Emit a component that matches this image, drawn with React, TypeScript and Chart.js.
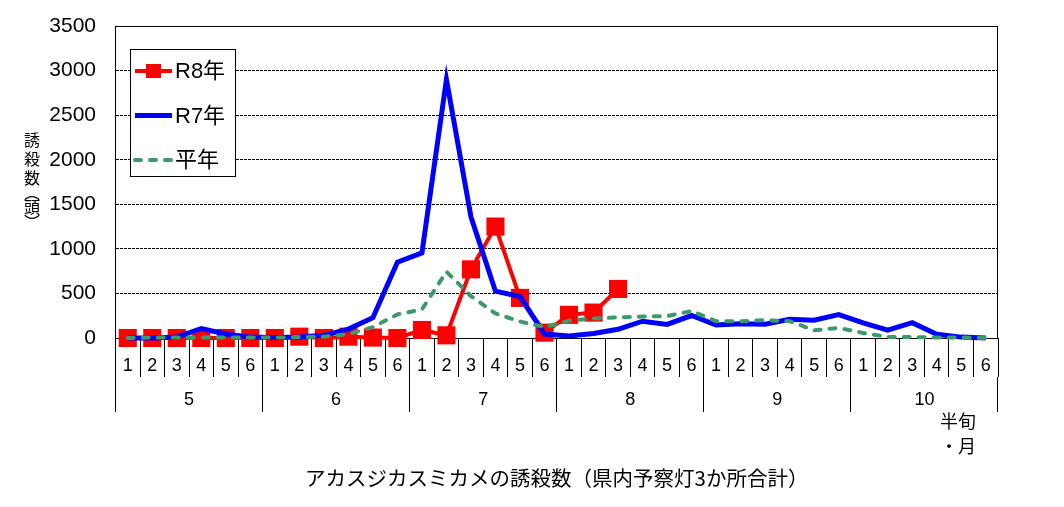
import { useEffect, useRef } from "react";
import { Chart, registerables } from "chart.js";
Chart.register(...registerables);

// 月と半旬
const months = ["5", "6", "7", "8", "9", "10"];
const halves = ["1", "2", "3", "4", "5", "6"];
const categories = months.flatMap((m) => halves.map((h) => `${m}月${h}半旬`));

// 誘殺数（頭）
const r8 = [
  0, 0, 0, 0, 0, 0,
  0, 15, 0, 15, 5, 0,
  90, 30, 770, 1250, 450, 60,
  260, 285, 550, null, null, null,
  null, null, null, null, null, null,
  null, null, null, null, null, null,
];
const r7 = [
  0, 0, 10, 105, 45, 10,
  5, 10, 30, 100, 228, 850,
  955, 2900, 1360, 525, 465, 45,
  22, 50, 98, 188, 152, 252,
  145, 160, 155, 210, 200, 262,
  170, 88, 172, 42, 10, 0,
];
const normal = [
  0, 5, 5, 5, 5, 5,
  5, 10, 15, 45, 122, 265,
  320, 745, 470, 275, 185, 122,
  195, 220, 230, 240, 246, 303,
  188, 188, 200, 188, 87, 113,
  57, 12, 10, 5, 5, 0,
];

const FONT_NUM = "'Liberation Sans', 'Noto Sans CJK JP', sans-serif";
const FONT_JP = "'Noto Sans CJK JP', sans-serif";

const decor = {
  id: "decor",
  afterDatasetsDraw(chart: Chart) {
    const { ctx, chartArea: a } = chart;
    ctx.save();
    ctx.strokeStyle = "#000";
    ctx.lineWidth = 1;
    ctx.beginPath();
    ctx.moveTo(a.left, a.top + 0.5);
    ctx.lineTo(a.right - 0.5, a.top + 0.5);
    ctx.lineTo(a.right - 0.5, a.bottom);
    ctx.stroke();
    ctx.restore();
  },
  afterDraw(chart: Chart) {
    const { ctx, chartArea: a } = chart;
    ctx.save();

    // 縦書きの軸タイトル
    ctx.fillStyle = "#000";
    ctx.font = `16px ${FONT_JP}`;
    ctx.textAlign = "center";
    ctx.textBaseline = "middle";
    const chars = ["誘", "殺", "数", "︵", "頭", "︶"];
    const offs = [0, 18.5, 37.5, 53, 67, 82];
    chars.forEach((c, i) => ctx.fillText(c, 24, 132 + offs[i]));

    // 半旬・月
    ctx.font = `18px ${FONT_JP}`;
    ctx.fillText("半旬", 950, 413);
    ctx.fillText("・月", 950, 438);

    // 凡例
    const lx = a.left + 14.5;
    const ly = a.top + 23;
    ctx.fillStyle = "#fff";
    ctx.fillRect(lx, ly, 105, 127);
    ctx.strokeStyle = "#000";
    ctx.lineWidth = 1;
    ctx.strokeRect(lx + 0.5, ly + 0.5, 105, 127);
    chart.data.datasets.forEach((ds: any, i: number) => {
      const y = ly + 22 + i * 44.5;
      ctx.save();
      ctx.strokeStyle = ds.borderColor;
      ctx.lineWidth = ds.borderWidth;
      ctx.lineCap = ds.borderCapStyle || "butt";
      ctx.setLineDash(ds.borderDash || []);
      ctx.beginPath();
      ctx.moveTo(lx + 5, y);
      ctx.lineTo(lx + 42, y);
      ctx.stroke();
      ctx.restore();
      if (ds.pointRadius > 0) {
        ctx.fillStyle = ds.pointBackgroundColor;
        ctx.fillRect(lx + 16, y - 7, 15, 14);
      }
      ctx.fillStyle = "#000";
      ctx.font = `22px ${FONT_NUM}`;
      ctx.textAlign = "left";
      ctx.textBaseline = "middle";
      ctx.fillText(ds.label, lx + 45, y + 1);
    });

    ctx.restore();
  },
};

const App = () => {
  const canvasRef = useRef<HTMLCanvasElement | null>(null);
  useEffect(() => {
    if (!canvasRef.current) return;

    const chartInstance = new Chart(canvasRef.current, {
      type: "line",
      data: {
        labels: categories,
        datasets: [
          {
            label: "R8年",
            data: r8,
            borderColor: "#ff0000",
            backgroundColor: "#ff0000",
            borderWidth: 4,
            pointStyle: "rect",
            pointRadius: 12.8,
            pointBackgroundColor: "#ff0000",
            pointBorderColor: "#ff0000",
            pointBorderWidth: 0,
            order: 3,
            clip: false,
            spanGaps: false,
          },
          {
            label: "R7年",
            data: r7,
            borderColor: "#0000ff",
            backgroundColor: "#0000ff",
            borderWidth: 5,
            pointRadius: 0,
            order: 2,
            clip: false,
          },
          {
            label: "平年",
            data: normal,
            borderColor: "#3a9a6b",
            backgroundColor: "#3a9a6b",
            borderWidth: 4,
            borderDash: [6, 9],
            borderCapStyle: "round",
            pointRadius: 0,
            order: 1,
            clip: false,
          },
        ],
      },
      options: {
        responsive: true,
        maintainAspectRatio: false,
        animation: false,
        layout: { autoPadding: false, padding: { top: 18, right: 58, bottom: 8, left: 0 } },
        plugins: {
          legend: { display: false },
          tooltip: { enabled: false },
        },
        scales: {
          x: {
            type: "category",
            position: "bottom",
            weight: 0,
            offset: true,
            grid: {
              offset: true,
              drawOnChartArea: false,
              tickLength: 39,
              tickColor: "#000",
              tickWidth: 1,
              color: "#000",
            },
            border: { display: true, color: "#000", width: 1 },
            ticks: {
              autoSkip: false,
              maxRotation: 0,
              padding: -21.8,
              color: "#000",
              font: { size: 18, family: FONT_NUM },
              callback: (_v: any, i: number) => halves[i % halves.length],
            },
            afterFit: (s: any) => {
              s.height = 39;
            },
          },
          x2: {
            type: "category",
            position: "bottom",
            weight: 1,
            labels: months,
            offset: true,
            grid: {
              offset: true,
              drawOnChartArea: false,
              tickLength: 35,
              tickColor: "#000",
              tickWidth: 1,
              color: "#000",
            },
            border: { display: false },
            ticks: {
              autoSkip: false,
              maxRotation: 0,
              padding: -22.8,
              color: "#000",
              font: { size: 18, family: FONT_NUM },
            },
            title: {
              display: true,
              text: "アカスジカスミカメの誘殺数（県内予察灯3か所合計）",
              color: "#000",
              font: { size: 20.5, family: FONT_JP, lineHeight: 1.2 },
              padding: { top: 0, bottom: 0 },
            },
            afterFit: (s: any) => {
              s.height = 114;
            },
          },
          y: {
            min: 0,
            max: 3500,
            position: "left",
            grid: {
              color: "#000",
              lineWidth: 1,
              drawTicks: false,
            },
            border: { display: true, color: "#000", width: 1, dash: [3, 1] },
            ticks: {
              stepSize: 500,
              padding: 19.5,
              color: "#000",
              font: { size: 21, family: FONT_NUM },
              callback: (v: any) => String(v),
            },
            afterFit: (s: any) => {
              s.width = 107.5;
              s.paddingTop = 0;
              s.paddingBottom = 0;
            },
          },
        },
      },
      plugins: [decor],
    });

    return () => {
      chartInstance.destroy();
    };
  }, []);

  return (
    <div style={{ position: "relative", width: 1048, height: 491 }}>
      <canvas ref={canvasRef} />
    </div>
  );
};

export default App;
